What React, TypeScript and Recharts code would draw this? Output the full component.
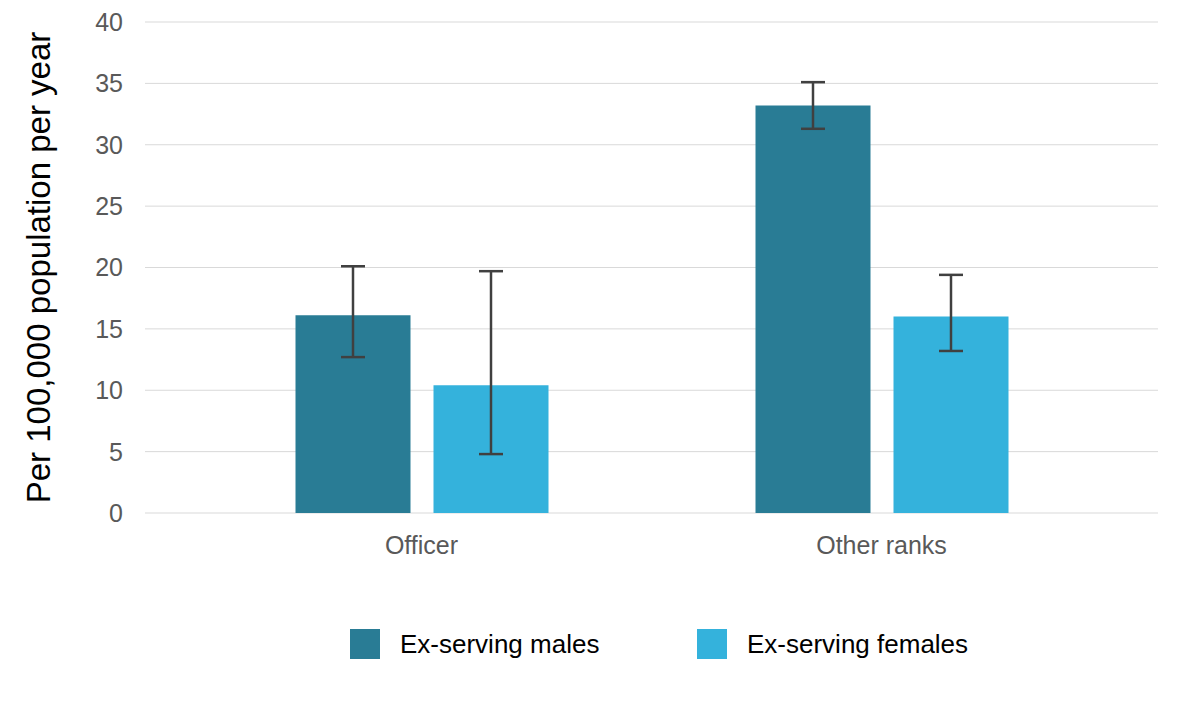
import React from 'react';
import {BarChart, Bar, XAxis, YAxis, CartesianGrid, Legend, ErrorBar} from 'recharts';

const categories = ['Officer', 'Other ranks'];
const seriesNames = ['Ex-serving males', 'Ex-serving females'];
const malesRate = [16.1, 33.2];
const malesLow = [12.7, 31.3];
const malesHigh = [20.1, 35.1];
const femalesRate = [10.4, 16.0];
const femalesLow = [4.8, 13.2];
const femalesHigh = [19.7, 19.4];
const yTicks = [0, 5, 10, 15, 20, 25, 30, 35, 40];

const MALE_COLOR = '#297C95';
const FEMALE_COLOR = '#34B2DC';
const FONT = '"Liberation Sans", Arial, sans-serif';

const data = categories.map((name, i) => ({
    name,
    males: malesRate[i],
    males_err: [malesRate[i] - malesLow[i], malesHigh[i] - malesRate[i]],
    females: femalesRate[i],
    females_err: [femalesRate[i] - femalesLow[i], femalesHigh[i] - femalesRate[i]],
}));

const YLabel = ({viewBox}: any) => {
    const cx = 38;
    const cy = viewBox.y + viewBox.height / 2;
    return (
        <text x={cx} y={cy} transform={`rotate(-90 ${cx} ${cy})`} textAnchor="middle"
            dominantBaseline="central" fontSize={33} fill="#000" fontFamily={FONT}>
            Per 100,000 population per year
        </text>
    );
};

// keep legend in series order (recharts sorts by name otherwise)
const LegendContent = ({payload}: any) => {
    const items = [...(payload || [])].sort(
        (a: any, b: any) => seriesNames.indexOf(a.value) - seriesNames.indexOf(b.value));
    return (
        <div style={{display: 'flex', paddingLeft: 350, height: 40, alignItems: 'center', fontFamily: FONT}}>
            {items.map((p: any) => (
                <div key={p.value} style={{display: 'flex', alignItems: 'center', width: 347}}>
                    <span style={{display: 'inline-block', width: 30, height: 30, background: p.color, marginRight: 20}} />
                    <span style={{fontSize: 26, color: '#000'}}>{p.value}</span>
                </div>
            ))}
        </div>
    );
};

export default function App() {
    return (
        <div style={{position: 'absolute', left: 0, top: 0, background: '#fff'}}>
            <BarChart width={1181} height={708} data={data} barSize={115} barGap={23}
                margin={{top: 22, right: 23, left: 0, bottom: 44}}>
                <CartesianGrid vertical={false} stroke="#d9d9d9" />
                <XAxis dataKey="name" axisLine={false} tickLine={false} height={111}
                    padding={{left: 46.5, right: 46.5}} tickMargin={17}
                    tick={{fontSize: 25, fill: '#595959', fontFamily: FONT}} />
                <YAxis domain={[0, 40]} ticks={yTicks} width={145} axisLine={false} tickLine={false}
                    tickMargin={16} tick={{fontSize: 25, fill: '#595959', fontFamily: FONT}}
                    label={<YLabel />} />
                <Legend verticalAlign="bottom" content={<LegendContent />} />
                <Bar dataKey="males" name={seriesNames[0]} fill={MALE_COLOR} isAnimationActive={false}>
                    <ErrorBar dataKey="males_err" width={12} stroke="#404040" strokeWidth={2.5} />
                </Bar>
                <Bar dataKey="females" name={seriesNames[1]} fill={FEMALE_COLOR} isAnimationActive={false}>
                    <ErrorBar dataKey="females_err" width={12} stroke="#404040" strokeWidth={2.5} />
                </Bar>
            </BarChart>
        </div>
    );
}
